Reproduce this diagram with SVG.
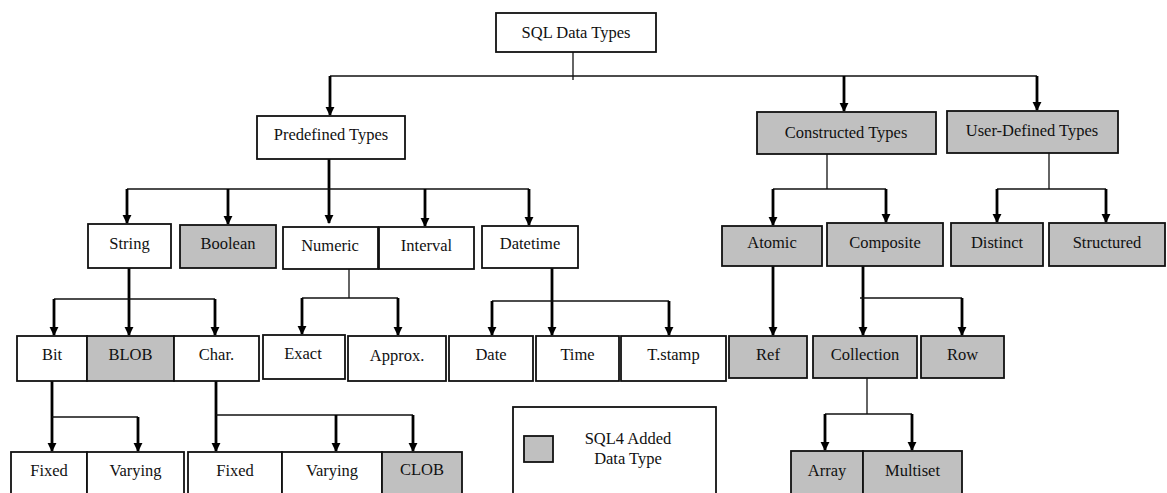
<svg xmlns="http://www.w3.org/2000/svg" width="1167" height="493" viewBox="0 0 1167 493">
<style>
.b{fill:#fff;stroke:#111;stroke-width:1.8}
.g{fill:#c0c0c0;stroke:#111;stroke-width:1.8}
text{font-family:'Liberation Serif','Times New Roman',serif;font-size:16.5px;fill:#111;text-anchor:middle}
.h{fill:none;stroke:#111;stroke-width:1.6}
.t{fill:none;stroke:#111;stroke-width:1.3}
.a{fill:none;stroke:#000;stroke-width:2.8;marker-end:url(#ah)}
</style>
<defs>
<marker id="ah" viewBox="0 0 10 10" refX="9" refY="5" markerWidth="9" markerHeight="10" markerUnits="userSpaceOnUse" orient="auto">
<path d="M0,0 L10,5 L0,10 z" fill="#000"/>
</marker>
</defs>
<g id="connectors">
<path class="t" d="M573,52 V80"/>
<path class="h" d="M330,76 H1037"/>
<path class="a" d="M330,76 V115"/>
<path class="a" d="M844,76 V111"/>
<path class="a" d="M1037,76 V110"/>
<path class="a" d="M329,159 V223"/>
<path class="h" d="M127,189 H529"/>
<path class="a" d="M127,189 V223"/>
<path class="a" d="M228,189 V224"/>
<path class="a" d="M425,189 V226"/>
<path class="a" d="M529,189 V225"/>
<path class="t" d="M827,154 V189"/>
<path class="h" d="M773,189 H886"/>
<path class="a" d="M773,189 V225"/>
<path class="a" d="M886,189 V222"/>
<path class="t" d="M1049,153 V189"/>
<path class="h" d="M997,189 H1106"/>
<path class="a" d="M997,189 V222"/>
<path class="a" d="M1106,189 V222"/>
<path class="a" d="M129,268 V335"/>
<path class="h" d="M54,299 H215"/>
<path class="a" d="M54,299 V335"/>
<path class="a" d="M215,299 V335"/>
<path class="t" d="M349,269 V298"/>
<path class="h" d="M302,298 H398"/>
<path class="a" d="M302,298 V334"/>
<path class="a" d="M398,298 V335"/>
<path class="a" d="M552,268 V335"/>
<path class="h" d="M492,301 H669"/>
<path class="a" d="M492,301 V335"/>
<path class="a" d="M669,301 V335"/>
<path class="a" d="M773,266 V335"/>
<path class="a" d="M863,266 V335"/>
<path class="h" d="M860,298 H962"/>
<path class="a" d="M962,298 V335"/>
<path class="t" d="M867,378 V414"/>
<path class="h" d="M825,414 H912"/>
<path class="a" d="M825,414 V450"/>
<path class="a" d="M912,414 V450"/>
<path class="a" d="M52,381 V451"/>
<path class="h" d="M52,417 H138"/>
<path class="a" d="M138,417 V451"/>
<path class="a" d="M216,381 V451"/>
<path class="h" d="M216,415 H413"/>
<path class="a" d="M336,415 V451"/>
<path class="a" d="M413,415 V451"/>
</g>
<g id="sql"><rect class="b" x="496" y="13" width="160" height="39"/><text x="576" y="38">SQL Data Types</text></g>
<g id="predefined"><rect class="b" x="257" y="116" width="148" height="43"/><text x="331" y="140">Predefined Types</text></g>
<g id="constructed"><rect class="g" x="757" y="112" width="179" height="42"/><text x="846" y="138">Constructed Types</text></g>
<g id="userdefined"><rect class="g" x="947" y="111" width="171" height="42"/><text x="1032" y="136">User-Defined Types</text></g>
<g id="string"><rect class="b" x="88" y="224" width="83" height="44"/><text x="129.5" y="249">String</text></g>
<g id="boolean"><rect class="g" x="180" y="225" width="96" height="43"/><text x="228" y="249">Boolean</text></g>
<g id="numeric"><rect class="b" x="283" y="227" width="95" height="42"/><text x="330" y="251">Numeric</text></g>
<g id="interval"><rect class="b" x="379" y="227" width="95" height="42"/><text x="426.5" y="251">Interval</text></g>
<g id="datetime"><rect class="b" x="482" y="226" width="96" height="42"/><text x="530" y="249">Datetime</text></g>
<g id="atomic"><rect class="g" x="722" y="226" width="100" height="40"/><text x="772" y="248">Atomic</text></g>
<g id="composite"><rect class="g" x="827" y="223" width="116" height="43"/><text x="885" y="248">Composite</text></g>
<g id="distinct"><rect class="g" x="951" y="223" width="92" height="43"/><text x="997" y="248">Distinct</text></g>
<g id="structured"><rect class="g" x="1049" y="223" width="116" height="43"/><text x="1107" y="248">Structured</text></g>
<g id="bit"><rect class="b" x="17" y="336" width="70" height="45"/><text x="52" y="360">Bit</text></g>
<g id="blob"><rect class="g" x="87" y="336" width="87" height="45"/><text x="130.5" y="360">BLOB</text></g>
<g id="char"><rect class="b" x="174" y="336" width="85" height="45"/><text x="216.5" y="360">Char.</text></g>
<g id="exact"><rect class="b" x="263" y="335" width="82" height="44"/><text x="303" y="359">Exact</text></g>
<g id="approx"><rect class="b" x="348" y="336" width="98" height="45"/><text x="397" y="361">Approx.</text></g>
<g id="date"><rect class="b" x="449" y="336" width="84" height="45"/><text x="491" y="360">Date</text></g>
<g id="time"><rect class="b" x="536" y="336" width="83" height="45"/><text x="577.5" y="360">Time</text></g>
<g id="tstamp"><rect class="b" x="621" y="336" width="105" height="45"/><text x="673.5" y="360">T.stamp</text></g>
<g id="ref"><rect class="g" x="729" y="336" width="78" height="42"/><text x="768" y="360">Ref</text></g>
<g id="collection"><rect class="g" x="813" y="336" width="104" height="42"/><text x="865" y="360">Collection</text></g>
<g id="row"><rect class="g" x="921" y="336" width="83" height="42"/><text x="962.5" y="360">Row</text></g>
<g id="bitfixed"><rect class="b" x="11" y="452" width="76" height="48"/><text x="49" y="476">Fixed</text></g>
<g id="bitvarying"><rect class="b" x="87" y="452" width="97" height="48"/><text x="135.5" y="476">Varying</text></g>
<g id="charfixed"><rect class="b" x="188" y="452" width="94" height="48"/><text x="235" y="476">Fixed</text></g>
<g id="charvarying"><rect class="b" x="282" y="452" width="100" height="48"/><text x="332" y="476">Varying</text></g>
<g id="clob"><rect class="g" x="382" y="452" width="80" height="48"/><text x="422" y="475">CLOB</text></g>
<g id="array"><rect class="g" x="791" y="451" width="72" height="49"/><text x="827" y="476">Array</text></g>
<g id="multiset"><rect class="g" x="863" y="451" width="99" height="49"/><text x="912.5" y="476">Multiset</text></g>
<g id="legend"><rect class="b" x="513" y="407" width="203" height="93"/><rect class="g" x="524" y="436" width="29" height="26"/><text x="628" y="444">SQL4 Added</text><text x="628" y="464">Data Type</text></g>
</svg>
